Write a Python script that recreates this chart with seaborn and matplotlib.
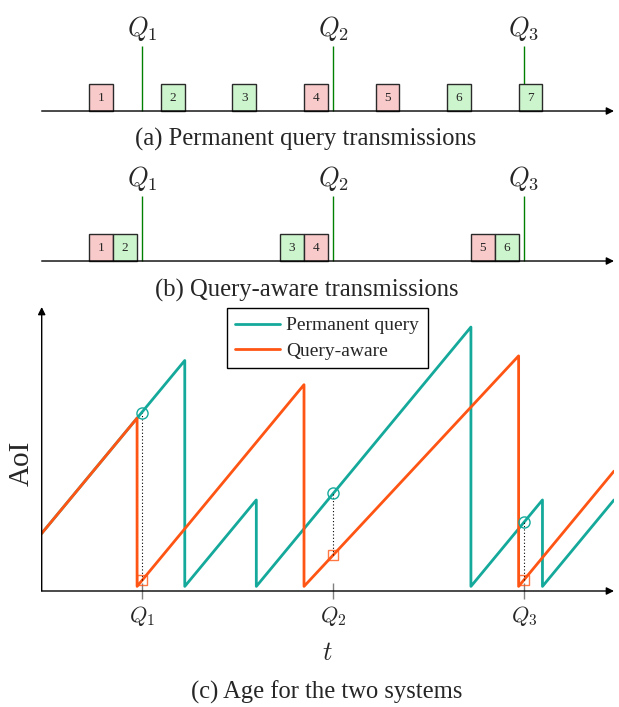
import numpy as np
import pandas as pd
import matplotlib
matplotlib.use("Agg")
import matplotlib.pyplot as plt
from matplotlib.lines import Line2D
import seaborn as sns

sns.set_theme(style="white")
plt.rcParams["font.family"] = ["Liberation Serif", "DejaVu Serif"]
plt.rcParams["mathtext.fontset"] = "cm"

# query instants (same time axis for the three panels)
queries = [5.28, 15.28, 25.28]
query_labels = ["$Q_1$", "$Q_2$", "$Q_3$"]

# (a) permanent query: one packet every 3.75 time units
perm_start = [2.5, 6.25, 10.0, 13.75, 17.5, 21.25, 25.0]
perm_ok = [False, True, True, False, False, True, True]
perm_num = [1, 2, 3, 4, 5, 6, 7]

# (b) query-aware: packets sent in pairs just before each query
aware_start = [2.5, 3.75, 12.5, 13.75, 22.5, 23.75]
aware_ok = [False, True, True, False, False, True]
aware_num = [1, 2, 3, 4, 5, 6]

pkt_len = 1.25

# (c) AoI sawtooth breakpoints
perm_t = [0, 7.5, 7.5, 11.25, 11.25, 22.5, 22.5, 26.25, 26.25, 30]
perm_age = [2.5, 10.0, 0.2, 3.95, 0.2, 11.45, 0.2, 3.95, 0.2, 3.95]
aware_t = [0, 5.0, 5.0, 13.75, 13.75, 25.0, 25.0, 30]
aware_age = [2.5, 7.5, 0.2, 8.95, 0.2, 10.2, 0.2, 5.2]

# age seen by each query
perm_at_q = [7.72, 4.25, 3.0]
aware_at_q = [0.48, 1.55, 0.48]

teal = "#14A99B"
orange = "#FF5514"
ok_col = "#CDF5CD"
bad_col = "#F9CACA"

fig = plt.figure(figsize=(6.19, 7.07), dpi=100)
L, W = 41.7 / 619, (614 - 41.7) / 619
ax_a = fig.add_axes([L, 1 - 121 / 707, W, 111 / 707])
ax_b = fig.add_axes([L, 1 - 271 / 707, W, 111 / 707])
ax_c = fig.add_axes([L, 1 - 591 / 707, W, 284 / 707])

arrow = dict(arrowstyle="-|>", color="black", lw=1, shrinkA=0, shrinkB=0,
             mutation_scale=11)


def draw_timeline(ax, starts, ok, nums):
    cols = [ok_col if o else bad_col for o in ok]
    ax.vlines(queries, 0, 2.4, color="green", lw=1, zorder=1)
    ax.bar(starts, 1, width=pkt_len, align="edge", color=cols,
           edgecolor="#2a2a2a", linewidth=1, zorder=2)
    for s, n in zip(starts, nums):
        ax.text(s + pkt_len / 2, 0.5, str(n), ha="center", va="center",
                fontsize=9.5, zorder=3)
    for q, lab in zip(queries, query_labels):
        ax.text(q, 3.07, lab, ha="center", va="center", fontsize=19)
    ax.annotate("", xy=(30, 0), xytext=(0, 0), arrowprops=arrow,
                annotation_clip=False)
    ax.set_xlim(0, 30)
    ax.set_ylim(-0.37, 3.74)
    ax.axis("off")


draw_timeline(ax_a, perm_start, perm_ok, perm_num)
draw_timeline(ax_b, aware_start, aware_ok, aware_num)

fig.text(305.5 / 619, 1 - 139 / 707, "(a) Permanent query transmissions",
         ha="center", va="center", fontsize=17.7)
fig.text(307 / 619, 1 - 290 / 707, "(b) Query-aware transmissions",
         ha="center", va="center", fontsize=17.7)
fig.text(326.5 / 619, 1 - 692 / 707, "(c) Age for the two systems",
         ha="center", va="center", fontsize=17.7)

# AoI panel
df = pd.concat([
    pd.DataFrame({"t": perm_t, "age": perm_age, "system": "Permanent query"}),
    pd.DataFrame({"t": aware_t, "age": aware_age, "system": "Query-aware"}),
])
sns.lineplot(data=df, x="t", y="age", hue="system", palette=[teal, orange],
             estimator=None, sort=False, lw=2, ax=ax_c, legend=False)

ax_c.vlines(queries, aware_at_q, perm_at_q, colors="black",
            linestyles=(0, (1, 2)), lw=0.8)
ax_c.plot(queries, perm_at_q, "o", mfc="none", mec=teal, ms=8, mew=1)
ax_c.plot(queries, aware_at_q, "s", mfc="none", mec=orange, ms=7.5, mew=1,
          alpha=0.8)

ax_c.set_xlim(0, 30)
ax_c.set_ylim(0, 12.32)
for sp in ax_c.spines.values():
    sp.set_visible(False)
ax_c.annotate("", xy=(30, 0), xytext=(0, 0), arrowprops=arrow,
              annotation_clip=False)
ax_c.annotate("", xy=(0, 12.32), xytext=(0, 0), arrowprops=arrow,
              annotation_clip=False)
ax_c.set_xticks(queries, query_labels)
ax_c.set_yticks([])
ax_c.tick_params(axis="x", direction="inout", length=11, width=1,
                 color="gray", labelsize=16, pad=4, bottom=True)
ax_c.set_xlabel("")
ax_c.set_ylabel("")
ax_c.text(0.4985, -0.222, "$t$", transform=ax_c.transAxes, ha="center",
          va="center", fontsize=19)
ax_c.text(-0.0344, 0.451, "AoI", transform=ax_c.transAxes, ha="center",
          va="center", rotation=90, fontsize=21)

handles = [Line2D([], [], color=teal, lw=2), Line2D([], [], color=orange, lw=2)]
leg = ax_c.legend(handles, ["Permanent query", "Query-aware"],
                  loc="upper left", bbox_to_anchor=(0.3233, 0.9965),
                  borderaxespad=0, borderpad=0.45, handlelength=2.3,
                  handletextpad=0.3, labelspacing=0.39, fontsize=14,
                  fancybox=False, framealpha=1, edgecolor="black")
leg.get_frame().set_linewidth(1)

fig.savefig("out.png", dpi=100)
